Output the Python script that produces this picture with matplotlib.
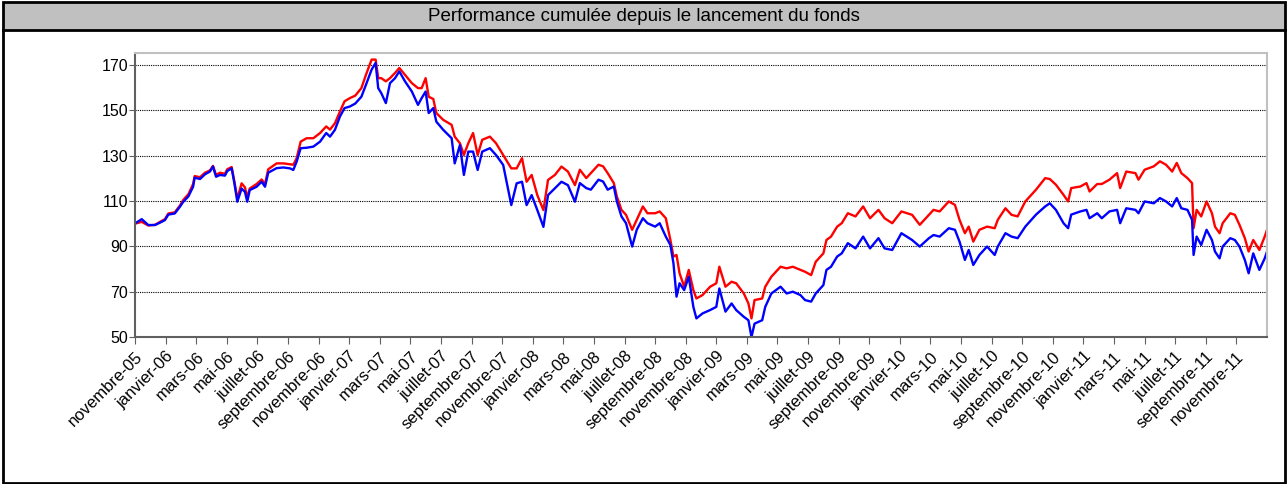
import matplotlib
matplotlib.use("Agg")
import matplotlib.pyplot as plt
from matplotlib.patches import Rectangle
from matplotlib.lines import Line2D
from matplotlib.transforms import ScaledTranslation

plt.rcParams['font.family'] = ['Liberation Sans', 'DejaVu Sans']

# months since novembre-05
mois = [0, 0.44, 0.87, 1.31, 1.74, 1.96, 2.18, 2.6, 2.94, 3.16, 3.49, 3.8, 3.9, 4.25, 4.58, 4.9,
        5.1, 5.3, 5.56, 5.88, 6.03, 6.32, 6.5, 6.69, 6.97, 7.19, 7.34, 7.5, 7.95, 8.28, 8.5, 8.71,
        9.26, 9.7, 10.13, 10.35, 10.57, 10.83, 11.22, 11.66, 12.1, 12.5, 12.75, 13.07, 13.4, 13.7, 14.05,
        14.4, 14.8, 15.1, 15.47, 15.73, 15.9, 16.1, 16.4, 16.67, 17, 17.28, 17.65, 18.1, 18.5, 18.74,
        19, 19.2, 19.5, 19.7, 20.15, 20.7, 20.9, 21.24, 21.5, 21.79, 22.1, 22.4, 22.7, 23.2, 23.6,
        24.07, 24.6, 24.95, 25.3, 25.6, 25.93, 26.3, 26.7, 27, 27.45, 27.88, 28.3, 28.76,
        29.08, 29.5, 29.8, 30.3, 30.6, 30.9, 31.3, 31.5, 31.8, 32.1, 32.5, 32.8, 33.2, 33.5, 34,
        34.3, 34.7, 35, 35.2, 35.4, 35.6, 35.9, 36.2, 36.5, 36.7, 37.1, 37.6, 38, 38.2, 38.6, 39,
        39.3, 39.8, 40.1, 40.3, 40.5, 41, 41.2, 41.6, 42.2, 42.6, 43, 43.5,
        43.8, 44.2, 44.5, 45, 45.2, 45.5, 45.9, 46.2, 46.6, 47.1, 47.6, 48.05, 48.6, 49, 49.5,
        50.1, 50.8, 51.3, 51.9, 52.2, 52.6, 53.2, 53.6, 53.9, 54.25, 54.5, 54.8, 55.2, 55.7, 56.2,
        56.4, 56.9, 57.3, 57.7, 58.2,
        58.9, 59.5, 59.8, 60.2, 60.7, 61, 61.2, 61.8, 62.2, 62.4, 62.9, 63.2, 63.7, 64.2, 64.4,
        64.8, 65.4, 65.6, 66, 66.6, 67, 67.4, 67.8, 68.1, 68.4, 68.8, 69.1, 69.2, 69.4, 69.7,
        70.05, 70.4, 70.6, 70.9, 71.1, 71.6, 71.9, 72.2, 72.55, 72.8, 73.1, 73.5, 73.85, 74]

fonds = [100.1, 102, 99.4, 99.4, 100.8, 101.6, 104, 104.5, 107.5, 109.7, 112, 116.3, 120.3, 119.7, 121.8, 123,
         125.2, 120.7, 121.5, 121.2, 123.2, 124.4, 117.8, 109.7, 115.5, 114, 109.7, 114.8, 116.3, 118.5, 116.3, 122.5,
         124.5, 124.8, 124.4, 123.7, 127.4, 133.3, 133.5, 134, 136.2, 140, 138.4, 141.4, 147.3, 151, 151.7,
         153, 156, 161.3, 168, 170.9, 159.8, 157.6, 153.2, 162, 164.2, 167.2, 162.8, 158.3, 152.4, 155.4,
         158.3, 148.8, 151, 145, 141.4, 137.7, 126.6, 134.7, 121.5, 131.8, 131.8, 123.7, 131.8, 133.3, 130.3,
         125.9, 108.2, 117.8, 118.5, 108.2, 112.6, 106, 98.6, 112.6, 115.6, 118.5, 117, 109.7,
         117.9, 115.7, 115, 119.4, 118.6, 115, 116.4, 109.8, 103.2, 100.2, 89.9, 97.3, 102.4, 100.2, 98.7,
         100.2, 94.3, 90.6, 82.5, 67.8, 73.7, 70.7, 76.6, 63.3, 58.2, 60.4, 61.9, 63.3, 71.4, 61.2, 64.8,
         61.9, 58.9, 57.4, 50, 55.9, 57.4, 63.3, 69.2, 72.2, 69.2, 70, 68.5,
         66.3, 65.6, 69.2, 72.9, 79.6, 81, 85.5, 86.9, 91.4, 89.1, 94.3, 89.1, 93.6, 89.1, 88.4,
         95.8, 92.8, 89.9, 93.6, 95, 94.3, 98, 97.3, 92.1, 84, 88.4, 81.8, 86.2, 89.9, 86.2,
         89.9, 95.8, 94.3, 93.6, 98.7,
         104, 107.6, 109, 106.1, 100.2, 98, 104, 105.4, 106.1, 102.4, 104.6, 102.4, 105.4, 106.1, 100.2,
         106.8, 106.1, 104.6, 109.8, 109, 111.3, 109.8, 107.6, 111.3, 106.8, 106.1, 101.7, 86.2, 94.3, 90.6,
         97.3, 92.8, 87.7, 84.7, 89.9, 93.6, 92.8, 89.9, 84, 78.1, 86.9, 79.6, 84.7, 87.7]

indice = [100, 100.8, 99.2, 99.5, 101.2, 102, 104.5, 105, 108, 110.5, 113, 117.5, 121, 120.5, 122.5, 123.5,
          125.5, 121.5, 122.5, 122, 124, 125, 118.5, 111, 117.8, 116, 111.5, 115.5, 117.5, 119.5, 117.5, 124,
          126.6, 126.6, 126.2, 126, 128.9, 136.2, 137.7, 137.7, 140, 142.9, 141.5, 144.3, 149.5, 154, 155.4,
          156.5, 159.8, 165.7, 172.4, 172.4, 164.2, 164.2, 162.8, 164.2, 166.5, 168.7, 165.7, 162, 159.8, 159.8,
          164.2, 156, 155, 148.8, 145.8, 143.6, 138.4, 135.5, 130.3, 135.5, 140, 130.3, 137, 138.4, 135.5,
          130.3, 124.4, 124.4, 128.9, 118.5, 121.5, 112.6, 106, 119.3, 121.5, 125.2, 123, 117,
          123.8, 120.1, 122.3, 126, 125.3, 122.3, 117.9, 112, 106.1, 103.9, 97.3, 101.7, 107.6, 104.6, 104.6,
          105.4, 102.4, 92.8, 85.5, 86.2, 78.1, 72.2, 79.6, 70.7, 67, 68.5, 72.2, 73.7, 81, 72.2, 74.4,
          73.7, 69.2, 64.8, 58.2, 66.3, 67, 72.2, 76.6, 81, 80.3, 81, 79.6,
          78.8, 77.3, 83.2, 86.9, 92.8, 94.3, 98.7, 100.2, 104.6, 103.2, 107.6, 102.4, 106.1, 102.4, 100.2,
          105.4, 103.9, 99.5, 103.9, 106.1, 105.4, 109.8, 108.3, 101.7, 95.8, 98.7, 92.1, 97.3, 98.7, 98,
          101.7, 106.8, 103.9, 103.2, 109.8,
          115, 120.1, 119.7, 117.2, 112.7, 109.8, 115.7, 116.4, 117.9, 114.2, 117.5, 117.5, 119.4, 122.3, 115.7,
          123, 122.3, 119.4, 123.8, 125.3, 127.5, 126, 123, 126.8, 122.3, 120.1, 117.9, 98, 106.1, 103.2,
          109.8, 104.6, 98.7, 95.8, 100.2, 104.6, 103.9, 99.5, 93.6, 87.7, 92.8, 88.4, 94.3, 97.3]

noms_mois = ['novembre', 'janvier', 'mars', 'mai', 'juillet', 'septembre']
etiquettes = []
for k in range(37):
    annee = 5 + (k + 5) // 6
    etiquettes.append(noms_mois[k % 6] + '-' + '%02d' % annee)

fig = plt.figure(figsize=(12.88, 4.84), dpi=100)

# frame and title bar
fig.patches.append(Rectangle((0.002, 0.938), 0.996, 0.058, transform=fig.transFigure,
                             facecolor='#c0c0c0', edgecolor='none', zorder=0))
fig.lines.append(Line2D([0.002, 0.998], [0.938, 0.938], transform=fig.transFigure, color='black', lw=2))
fig.patches.append(Rectangle((0.002, 0.003), 0.996, 0.993, transform=fig.transFigure,
                             facecolor='none', edgecolor='black', lw=2))
fig.text(0.5, 0.966, 'Performance cumulée depuis le lancement du fonds', ha='center', va='center',
         fontsize=13.5)

ax = fig.add_axes([0.1048, 0.3037, 0.8789, 0.5868])
ax.plot(mois, indice, color='#ff0000', lw=1.7)
ax.plot(mois, fonds, color='#0000ff', lw=1.7)

ax.set_xlim(0, 74)
ax.set_ylim(50, 175.3)
ax.set_yticks(range(50, 171, 20))
ax.set_xticks(range(0, 73, 2))
ax.set_xticklabels(etiquettes, rotation=45, ha='right', va='top', rotation_mode='anchor', fontsize=12)
decalage = ScaledTranslation(-10 / 100, -4 / 100, fig.dpi_scale_trans)
for lab in ax.get_xticklabels():
    lab.set_transform(lab.get_transform() + decalage)
ax.tick_params(axis='y', labelsize=11.5, length=4, pad=1, color='#606060')
ax.tick_params(axis='x', length=5, color='#606060')
ax.grid(axis='y', color='black', linestyle=(0, (1, 1)), lw=0.8)
ax.set_axisbelow(True)

for s in ['top', 'right']:
    ax.spines[s].set_color('#c0c0c0')
    ax.spines[s].set_linewidth(1.5)
for s in ['left', 'bottom']:
    ax.spines[s].set_color('#606060')
    ax.spines[s].set_linewidth(1.5)

fig.savefig('out.png', dpi=100)
